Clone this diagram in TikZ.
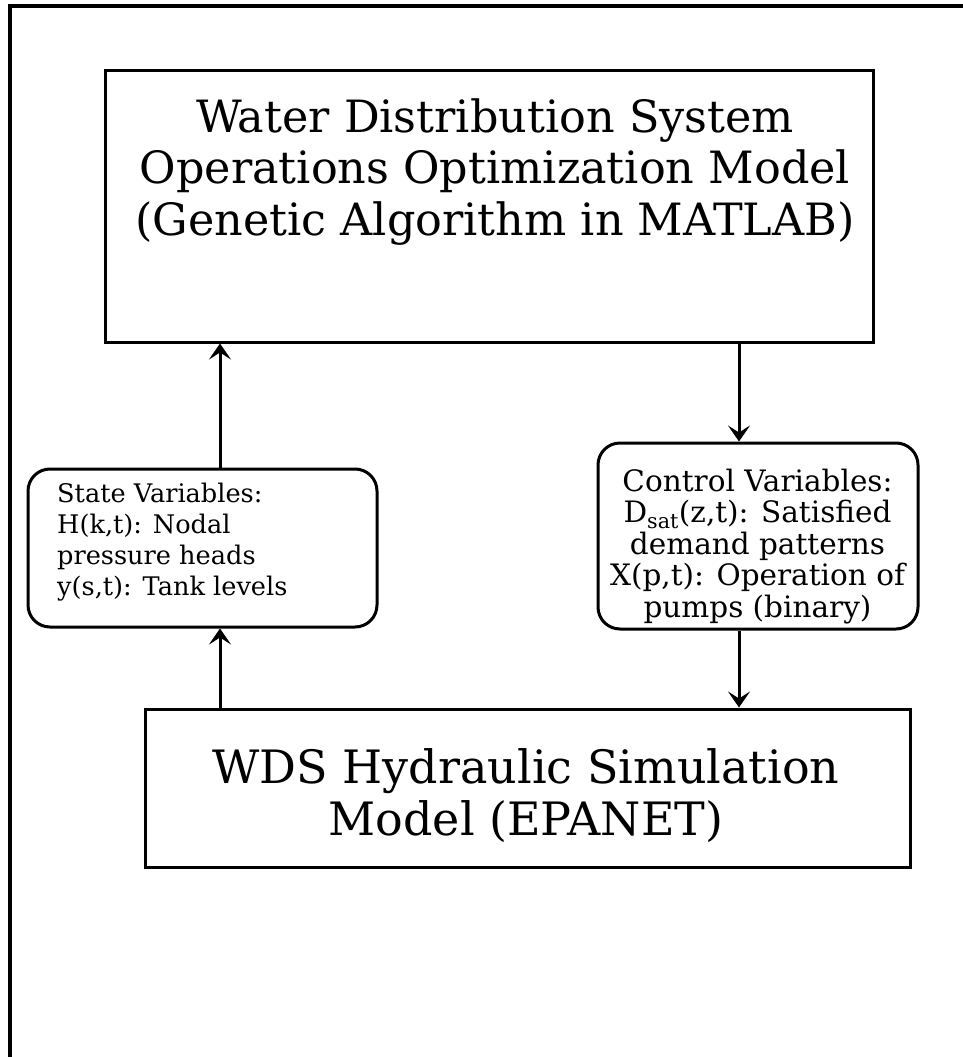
\documentclass[tikz,border=0pt]{standalone}
\usepackage{fontspec}
\setmainfont{DejaVu Serif}
\usetikzlibrary{arrows.meta}
\tikzset{
  frame/.style={line width=4pt},
  bigbox/.style={draw, line width=3pt, rectangle, inner sep=0pt},
  varbox/.style={draw, line width=3pt, rectangle, rounded corners=22pt, inner sep=0pt},
  toptextstyle/.style={inner sep=0pt, align=center, font=\fontsize{44.5}{51.5}\selectfont},
  simtextstyle/.style={inner sep=0pt, align=center, font=\fontsize{46}{52}\selectfont},
  statetextstyle/.style={inner sep=0pt, align=left, font=\fontsize{25.6}{31}\selectfont},
  ctrltextstyle/.style={inner sep=0pt, align=center, font=\fontsize{29.5}{31.5}\selectfont},
  arr/.style={line width=3pt, -{Stealth[length=16pt, width=22pt, inset=7pt]}}
}
\begin{document}
\begin{tikzpicture}[x=1pt, y=-1pt]
\useasboundingbox (0,0) rectangle (963,1057);
% outer frame (cut at right and bottom)
\coordinate (ftr) at (963,6);
\coordinate (ftl) at (10,6);
\coordinate (fbl) at (10,1057);
\draw[frame] (ftr) -- (ftl) -- (fbl);

% boxes
\node[bigbox, minimum width=768pt, minimum height=271pt] (top) at (489,206.5) {};
\node[bigbox, minimum width=765pt, minimum height=158pt] (sim) at (527.5,788) {};
\node[varbox, minimum width=349pt, minimum height=158pt] (state) at (202.5,548) {};
\node[varbox, minimum width=320pt, minimum height=186pt] (ctrl) at (758,536) {};

% texts
\node[toptextstyle, anchor=north] (toptext) at (495,98)
  {Water Distribution System\\Operations Optimization Model\\(Genetic Algorithm in MATLAB)};
\node[simtextstyle, anchor=north] (simtext) at (526,748)
  {WDS Hydraulic Simulation\\Model (EPANET)};
\node[statetextstyle, anchor=north west] (statetext) at (57,482.5)
  {State Variables:\\H(k,t): Nodal\\pressure heads\\y(s,t): Tank levels};
\node[ctrltextstyle, anchor=north] (ctrltext) at (757.5,468.5)
  {Control Variables:\\D\textsubscript{sat}(z,t): Satisfied\\demand patterns\\X(p,t): Operation of\\pumps (binary)};

% connector columns
\coordinate (lx) at (220,0);
\coordinate (rx) at (739,0);
\draw[arr] (state.north -| lx) -- (top.south -| lx);
\draw[arr] (sim.north -| lx) -- (state.south -| lx);
\draw[arr] (top.south -| rx) -- (ctrl.north -| rx);
\draw[arr] (ctrl.south -| rx) -- (sim.north -| rx);
\end{tikzpicture}
\end{document}
